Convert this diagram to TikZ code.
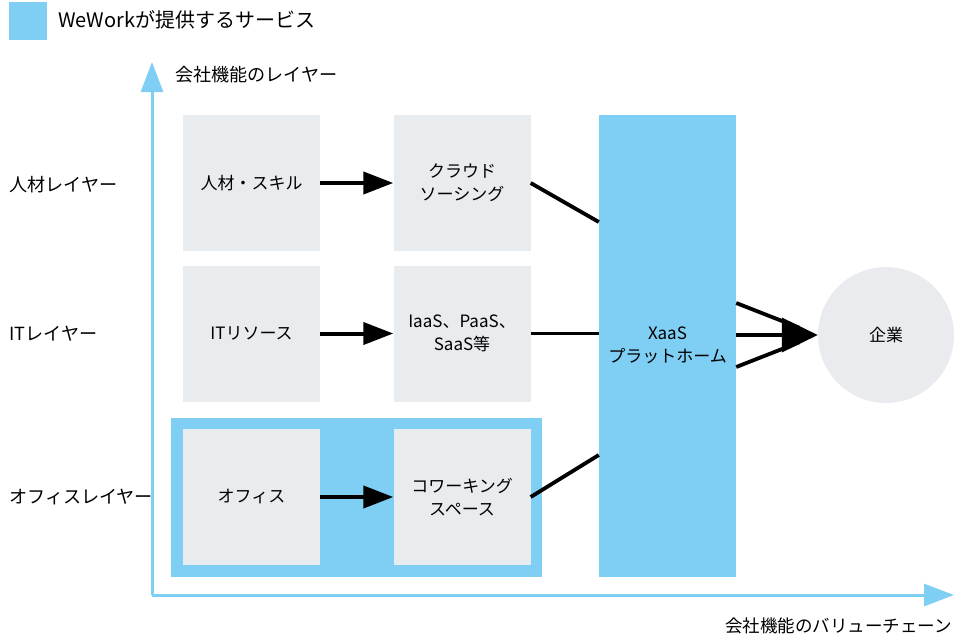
\documentclass[tikz,border=0pt]{standalone}
\usepackage{fontspec}
\setmainfont{Noto Sans CJK JP}
\usetikzlibrary{arrows.meta,calc}
\definecolor{lblue}{HTML}{7FCEF3}
\definecolor{lgray}{HTML}{E8ECEF}
\definecolor{cgray}{HTML}{E9EBEE}
\begin{document}
\begin{tikzpicture}[x=1pt,y=-1pt,
  box/.style={fill=lgray,minimum width=137pt,minimum height=136pt,inner sep=0pt,align=center,font=\fontsize{17}{23}\selectfont},
  lbl/.style={font=\fontsize{18.1}{22}\selectfont,inner sep=0pt},
  flow/.style={line width=4pt,-{Triangle[length=30pt,width=22pt]}},
  conn/.style={line width=3.8pt},
  axis/.style={draw=lblue,line width=3pt,-{Triangle[length=30pt,width=22pt]},lblue}]
\useasboundingbox (0,0) rectangle (967,637);
% legend
\node[fill=lblue,minimum width=38pt,minimum height=38pt,inner sep=0pt] (leg) at (28,21) {};
\node[anchor=west,inner sep=0pt,font=\fontsize{20}{24}\selectfont] (legt) at (58,20) {WeWorkが提供するサービス};
% axes
\coordinate (o) at (152,595);
\coordinate (ytop) at (152,62);
\coordinate (xend) at (954,595);
\draw[axis] (o) -- (ytop);
\draw[axis] (o) -- (xend);
\node[lbl,anchor=west] (ylab) at (175,75) {会社機能のレイヤー};
\node[lbl,anchor=east,font=\fontsize{17.5}{22}\selectfont] (xlab) at (952,626) {会社機能のバリューチェーン};
% row labels
\node[lbl,anchor=west] (r1) at (9,185) {人材レイヤー};
\node[lbl,anchor=west] (r2) at (9,334) {ITレイヤー};
\node[lbl,anchor=west] (r3) at (9,497) {オフィスレイヤー};
% blue background of office row
\node[fill=lblue,minimum width=371pt,minimum height=159pt,inner sep=0pt] (bg) at (356.5,497.5) {};
% boxes
\node[box] (b11) at (251.5,183) {人材・スキル};
\node[box] (b12) at (462,183) {クラウド\\ソーシング};
\node[box] (b21) at (251.5,333.5) {ITリソース};
\node[box] (b22) at (462,333.5) {IaaS、PaaS、\\SaaS等};
\node[box] (b31) at (251.5,497) {オフィス};
\node[box] (b32) at (462,497) {コワーキング\\スペース};
% platform
\node[fill=lblue,minimum width=137pt,minimum height=462pt,inner sep=0pt] (x) at (667.5,346) {};
\node[inner sep=0pt,align=center,font=\fontsize{17}{23}\selectfont] (xt) at (667.5,345) {XaaS\\プラットホーム};
% company
\node[circle,fill=cgray,minimum size=136pt,inner sep=0pt,font=\fontsize{17}{23}\selectfont] (c) at (886,335) {企業};
% flows
\draw[flow] (b11) -- (b12);
\draw[flow] (b21) -- (b22);
\draw[flow] (b31) -- (b32);
\draw[conn] (b12.east) -- ([yshift=124pt]x.west);
\draw[conn] (b22.east) -- (b22.east -| x.west);
\draw[conn] (b32.east) -- ([yshift=-109pt]x.west);
\draw[conn,shorten >=20pt] ([yshift=43pt]x.east) -- (c.west);
\draw[conn,shorten >=20pt] ([yshift=-21pt]x.east) -- (c.west);
\draw[line width=3.8pt,-{Triangle[length=36pt,width=34pt]}] (x.east |- c.west) -- (c.west);
\end{tikzpicture}
\end{document}
